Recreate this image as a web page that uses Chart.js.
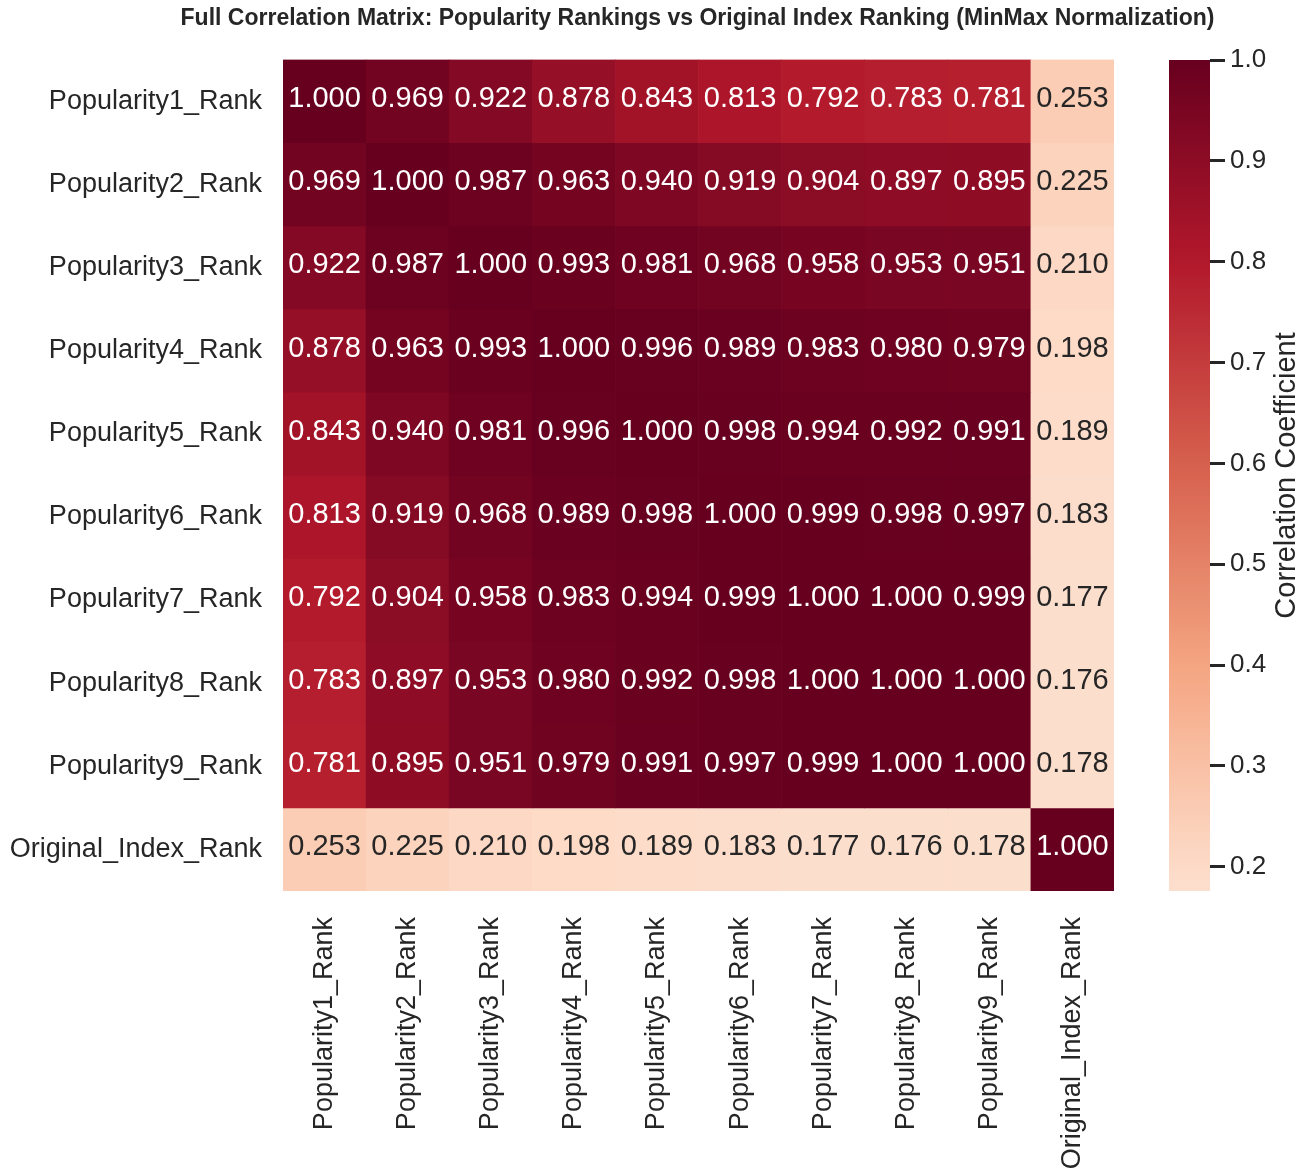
<!DOCTYPE html>
<html>
<head>
<meta charset="utf-8">
<script src="https://cdn.jsdelivr.net/npm/chart.js@4.4.1/dist/chart.umd.min.js"></script>
<style>
  html, body { margin: 0; padding: 0; background: #fff; overflow: hidden; }
  #main { position: absolute; left: 0; top: 0; width: 1395px; height: 1172px; }
  #cbar { position: absolute; left: 1100px; top: 0; width: 211px; height: 1172px; }
</style>
</head>
<body>
<div id="main"><canvas id="heatmap"></canvas></div>
<div id="cbar"><canvas id="colorbar"></canvas></div>
<script>
// etiquetas de filas / columnas
const rankLabels = [
  "Popularity1_Rank", "Popularity2_Rank", "Popularity3_Rank",
  "Popularity4_Rank", "Popularity5_Rank", "Popularity6_Rank",
  "Popularity7_Rank", "Popularity8_Rank", "Popularity9_Rank",
  "Original_Index_Rank",
];

// una fila de la matriz de correlación por array
const pop1Row = [1.000, 0.969, 0.922, 0.878, 0.843, 0.813, 0.792, 0.783, 0.781, 0.253];
const pop2Row = [0.969, 1.000, 0.987, 0.963, 0.940, 0.919, 0.904, 0.897, 0.895, 0.225];
const pop3Row = [0.922, 0.987, 1.000, 0.993, 0.981, 0.968, 0.958, 0.953, 0.951, 0.210];
const pop4Row = [0.878, 0.963, 0.993, 1.000, 0.996, 0.989, 0.983, 0.980, 0.979, 0.198];
const pop5Row = [0.843, 0.940, 0.981, 0.996, 1.000, 0.998, 0.994, 0.992, 0.991, 0.189];
const pop6Row = [0.813, 0.919, 0.968, 0.989, 0.998, 1.000, 0.999, 0.998, 0.997, 0.183];
const pop7Row = [0.792, 0.904, 0.958, 0.983, 0.994, 0.999, 1.000, 1.000, 0.999, 0.177];
const pop8Row = [0.783, 0.897, 0.953, 0.980, 0.992, 0.998, 1.000, 1.000, 1.000, 0.176];
const pop9Row = [0.781, 0.895, 0.951, 0.979, 0.991, 0.997, 0.999, 1.000, 1.000, 0.178];
const origRow = [0.253, 0.225, 0.210, 0.198, 0.189, 0.183, 0.177, 0.176, 0.178, 1.000];

const colorbarTicks = [0.2, 0.3, 0.4, 0.5, 0.6, 0.7, 0.8, 0.9, 1.0];

const matrix = [pop1Row, pop2Row, pop3Row, pop4Row, pop5Row, pop6Row, pop7Row, pop8Row, pop9Row, origRow];
const vmin = Math.min(...matrix.flat());
const vmax = Math.max(...matrix.flat());

const FONT = "'Liberation Sans', Arial, sans-serif";
const INK = "#262626";

// RdBu_r centrado en 0 (como seaborn con center=0)
const RDBU_R = ["#053061", "#2166ac", "#4393c3", "#92c5de", "#d1e5f0", "#f7f7f7",
                "#fddbc7", "#f4a582", "#d6604d", "#b2182b", "#67001f"];
const hexRgb = (h) => [1, 3, 5].map((i) => parseInt(h.slice(i, i + 2), 16));
function cmapRgb(v) {
  const p = Math.min(1, Math.max(0, (v + 1) / 2)) * 10;
  const i = Math.min(9, Math.floor(p));
  const t = p - i;
  const a = hexRgb(RDBU_R[i]), b = hexRgb(RDBU_R[i + 1]);
  return a.map((c, k) => Math.round(c + (b[k] - c) * t));
}
const cmap = (v) => `rgb(${cmapRgb(v).join(",")})`;

function textColor(v) {
  const lin = cmapRgb(v).map((c) => {
    c /= 255;
    return c <= 0.03928 ? c / 12.92 : Math.pow((c + 0.055) / 1.055, 2.4);
  });
  const lum = 0.2126 * lin[0] + 0.7152 * lin[1] + 0.0722 * lin[2];
  return lum > 0.408 ? INK : "#ffffff";
}

// valores dentro de cada celda
const cellText = {
  id: "cellText",
  afterDatasetsDraw(chart) {
    const { ctx } = chart;
    ctx.save();
    ctx.font = `29px ${FONT}`;
    ctx.textAlign = "center";
    ctx.textBaseline = "middle";
    chart.data.datasets.forEach((ds, r) => {
      chart.getDatasetMeta(r).data.forEach((bar, c) => {
        const v = matrix[r][c];
        ctx.fillStyle = textColor(v);
        ctx.fillText(v.toFixed(3), bar.x, (bar.y + bar.base) / 2 - 2);
      });
    });
    ctx.restore();
  },
};

new Chart(document.getElementById("heatmap"), {
  type: "bar",
  data: {
    labels: rankLabels,
    datasets: matrix.map((row, r) => ({
      label: rankLabels[r],
      data: row.map(() => 1),
      backgroundColor: row.map(cmap),
      borderWidth: 0,
      barPercentage: 1,
      categoryPercentage: 1,
    })),
  },
  options: {
    responsive: true,
    maintainAspectRatio: false,
    animation: false,
    layout: { padding: 0 },
    plugins: {
      legend: { display: false },
      tooltip: { enabled: false },
      title: {
        display: true,
        text: "Full Correlation Matrix: Popularity Rankings vs Original Index Ranking (MinMax Normalization)",
        color: INK,
        font: { family: FONT, size: 23, weight: "bold" },
        padding: { top: 5, bottom: 27 },
      },
    },
    scales: {
      x: {
        stacked: true,
        grid: { display: false },
        border: { display: false },
        ticks: {
          autoSkip: false,
          minRotation: 90,
          maxRotation: 90,
          padding: 18,
          color: INK,
          font: { family: FONT, size: 27 },
        },
        afterFit: (s) => { s.height = 281; },
      },
      y: {
        stacked: true,
        min: 0,
        max: 10,
        reverse: true,
        grid: { display: false },
        border: { display: false },
        afterBuildTicks: (s) => {
          s.ticks = rankLabels.map((_, i) => ({ value: i + 0.5 }));
        },
        ticks: {
          autoSkip: false,
          padding: 13,
          color: INK,
          font: { family: FONT, size: 27 },
          callback: (v) => rankLabels[Math.floor(v)],
        },
        afterFit: (s) => { s.width = 283; },
      },
      // hueco a la derecha para la barra de color (mantiene el título centrado sobre el mapa)
      gap: {
        axis: "y",
        position: "right",
        grid: { display: false },
        border: { display: false },
        ticks: { display: false },
        afterFit: (s) => { s.width = 281; },
      },
    },
  },
  plugins: [cellText],
});

// barra de color
function barGradient(chart) {
  const { ctx, chartArea, scales } = chart;
  if (!chartArea) return cmap(vmax);
  const y0 = scales.y.getPixelForValue(vmin);
  const y1 = scales.y.getPixelForValue(vmax);
  const g = ctx.createLinearGradient(0, y0, 0, y1);
  for (let k = 0; k <= 40; k++) {
    const t = k / 40;
    g.addColorStop(t, cmap(vmin + t * (vmax - vmin)));
  }
  return g;
}

const cbarLabel = {
  id: "cbarLabel",
  afterDraw(chart) {
    const { ctx, chartArea } = chart;
    ctx.save();
    ctx.translate(chartArea.right + 77, (chartArea.top + chartArea.bottom) / 2);
    ctx.rotate(-Math.PI / 2);
    ctx.textAlign = "center";
    ctx.textBaseline = "middle";
    ctx.font = `29px ${FONT}`;
    ctx.fillStyle = INK;
    ctx.fillText("Correlation Coefficient", 0, 0);
    ctx.restore();
  },
};

new Chart(document.getElementById("colorbar"), {
  type: "bar",
  data: {
    labels: [""],
    datasets: [{
      data: [[vmin, vmax]],
      backgroundColor: (c) => barGradient(c.chart),
      borderWidth: 0,
      barPercentage: 1,
      categoryPercentage: 1,
    }],
  },
  options: {
    responsive: true,
    maintainAspectRatio: false,
    animation: false,
    layout: { padding: { left: 69, right: 0, top: 60, bottom: 281 } },
    plugins: { legend: { display: false }, tooltip: { enabled: false } },
    scales: {
      x: { display: false },
      y: {
        position: "right",
        min: vmin,
        max: vmax,
        grid: {
          drawOnChartArea: false,
          drawTicks: true,
          tickLength: 15,
          tickWidth: 3,
          tickColor: INK,
        },
        border: { display: false },
        afterBuildTicks: (s) => {
          s.ticks = colorbarTicks.map((v) => ({ value: v }));
        },
        ticks: {
          padding: 5,
          color: INK,
          font: { family: FONT, size: 26 },
          callback: (v) => v.toFixed(1),
        },
        afterFit: (s) => { s.width = 101; },
      },
    },
  },
  plugins: [cbarLabel],
});
</script>
</body>
</html>
